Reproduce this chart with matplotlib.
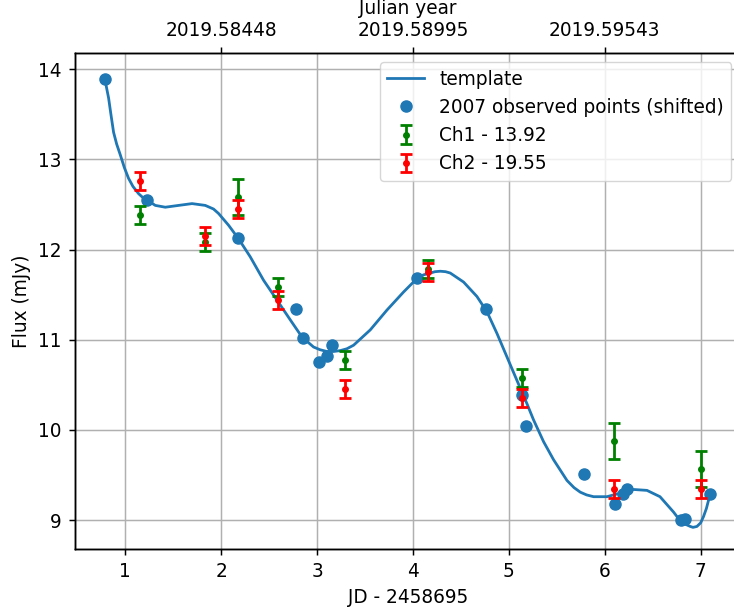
import matplotlib
matplotlib.use("Agg")
import matplotlib.pyplot as plt

# Template curve
tmpl_x = [0.79, 0.80, 0.826, 0.85, 0.878, 0.91, 0.948, 0.99, 1.034, 1.08, 1.139, 1.18,
          1.226, 1.313, 1.417, 1.556, 1.696,
          1.834, 1.92, 1.973, 2.077, 2.181, 2.303, 2.442, 2.582, 2.721, 2.843, 2.963,
          3.03, 3.103, 3.17, 3.242, 3.31, 3.381, 3.555, 3.729, 3.902, 4.042, 4.11, 4.180,
          4.23, 4.285, 4.34, 4.389, 4.528, 4.667,
          4.772, 4.876, 4.980, 5.084, 5.189, 5.258, 5.362, 5.466, 5.606, 5.68, 5.745, 5.81,
          5.883, 6.023, 6.162, 6.300, 6.440, 6.576, 6.717, 6.76, 6.805, 6.85, 6.892, 6.92,
          6.961, 7.00, 7.030, 7.06, 7.082, 7.10]
tmpl_y = [13.90, 13.82, 13.68, 13.50, 13.30, 13.17, 13.05, 12.91, 12.79, 12.70, 12.62, 12.58,
          12.55, 12.49, 12.47, 12.49, 12.51,
          12.49, 12.45, 12.40, 12.27, 12.12, 11.92, 11.66, 11.44, 11.22, 11.03, 10.92,
          10.89, 10.87, 10.87, 10.88, 10.90, 10.94, 11.11, 11.33, 11.53, 11.68, 11.72, 11.74,
          11.755, 11.76, 11.755, 11.74, 11.64, 11.48,
          11.31, 11.07, 10.81, 10.55, 10.29, 10.11, 9.87, 9.67, 9.44, 9.36, 9.31, 9.28,
          9.26, 9.26, 9.30, 9.34, 9.33, 9.26, 9.09, 9.03, 8.98, 8.95, 8.93, 8.92,
          8.93, 8.97, 9.04, 9.13, 9.22, 9.28]

# 2007 observed points (shifted)
obs_x = [0.79, 1.23, 2.18, 2.78, 2.85, 3.02, 3.10, 3.16, 4.04, 4.76, 5.14, 5.18,
         5.78, 6.11, 6.19, 6.23, 6.80, 6.84, 7.10]
obs_y = [13.89, 12.55, 12.13, 11.34, 11.02, 10.75, 10.82, 10.94, 11.68, 11.34, 10.39,
         10.04, 9.51, 9.18, 9.29, 9.34, 9.00, 9.01, 9.29]

# Channel measurements
ch_x = [1.15, 1.83, 2.18, 2.59, 3.29, 4.16, 5.14, 6.10, 7.00]
ch1_y = [12.38, 12.08, 12.58, 11.58, 10.78, 11.78, 10.58, 9.88, 9.57]
ch1_err = [0.1, 0.1, 0.2, 0.1, 0.1, 0.1, 0.1, 0.2, 0.2]
ch2_y = [12.76, 12.15, 12.45, 11.44, 10.45, 11.75, 10.35, 9.34, 9.35]
ch2_err = [0.1, 0.1, 0.1, 0.1, 0.1, 0.1, 0.1, 0.1, 0.1]

top_ticks = [2, 4, 6]
top_labels = ["2019.58448", "2019.58995", "2019.59543"]

s = 4.0 / 3.0
plt.rcParams.update({
    "font.family": "DejaVu Sans",
    "font.size": 10 * s,
    "lines.linewidth": 1.5 * s,
    "lines.markersize": 6 * s,
    "axes.linewidth": 0.8 * s,
    "xtick.major.size": 3.5 * s,
    "ytick.major.size": 3.5 * s,
    "xtick.major.width": 0.8 * s,
    "ytick.major.width": 0.8 * s,
    "xtick.major.pad": 3.5 * s,
    "ytick.major.pad": 3.5 * s,
    "grid.linewidth": 0.8 * s,
    "axes.labelpad": 4.0 * s,
})

fig = plt.figure(figsize=(7.34, 6.13), dpi=100)
W, H = 734, 613
left_px, right_px, top_px, bot_px = 74.9, 740.5, 53, 549
ax = fig.add_axes([left_px / W, 1 - bot_px / H, (right_px - left_px) / W, (bot_px - top_px) / H])

ax.plot(tmpl_x, tmpl_y, color="#1f77b4", label="template", zorder=2)
ax.plot(obs_x, obs_y, "o", color="#1f77b4", label="2007 observed points (shifted)", zorder=3)
ax.errorbar(ch_x, ch1_y, yerr=ch1_err, fmt=".", color="green", capsize=3 * s,
            capthick=1.5 * s, label="Ch1 - 13.92", zorder=4)
ax.errorbar(ch_x, ch2_y, yerr=ch2_err, fmt=".", color="red", capsize=3 * s,
            capthick=1.5 * s, label="Ch2 - 19.55", zorder=5)

ax.set_xlim(0.4745, 7.4155)
ax.set_ylim(8.68, 14.18)
ax.set_xticks([1, 2, 3, 4, 5, 6, 7])
ax.set_yticks([9, 10, 11, 12, 13, 14])
ax.grid(True)
ax.set_xlabel("JD - 2458695")
ax.set_ylabel("Flux (mJy)")
ax.legend(loc="upper right")

ax2 = ax.twiny()
ax2.set_xlim(ax.get_xlim())
ax2.set_xticks(top_ticks)
ax2.set_xticklabels(top_labels)
ax2.set_xlabel("Julian year")

fig.savefig("out.png", dpi=100)
